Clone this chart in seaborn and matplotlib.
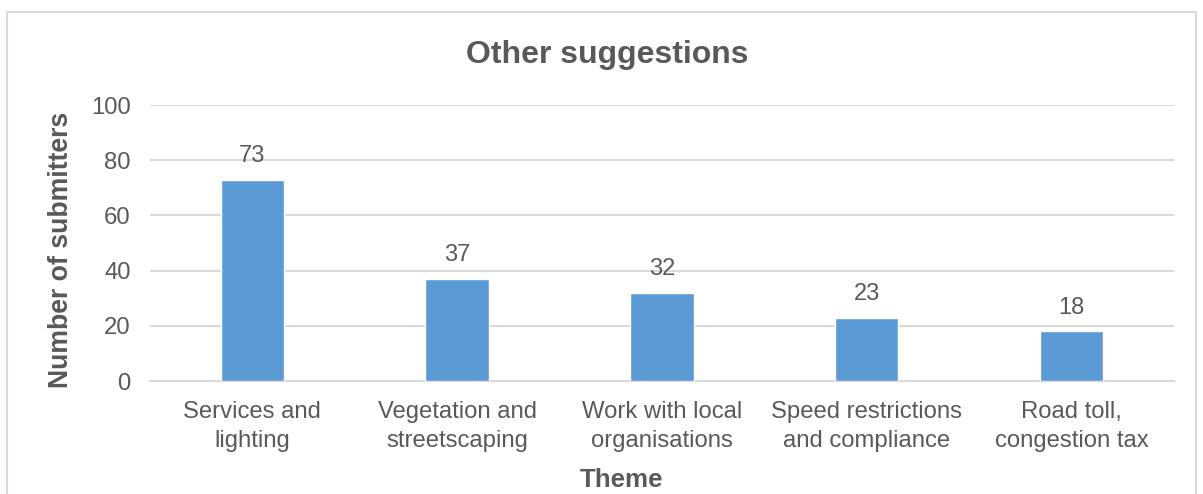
import matplotlib
matplotlib.use("Agg")
import matplotlib.pyplot as plt
import seaborn as sns
import pandas as pd
from matplotlib.patches import Rectangle

# data
themes = [
    "Services and\nlighting",
    "Vegetation and\nstreetscaping",
    "Work with local\norganisations",
    "Speed restrictions\nand compliance",
    "Road toll,\ncongestion tax",
]
submitters = [73, 37, 32, 23, 18]
y_ticks = [0, 20, 40, 60, 80, 100]

df = pd.DataFrame({"theme": themes, "count": submitters})

sns.set_style("white")
plt.rcParams["font.family"] = ["Liberation Sans", "DejaVu Sans"]

text_col = "#595959"
grid_col = "#D9D9D9"
bar_col = "#5B9BD5"

fig = plt.figure(figsize=(12.03, 4.94), dpi=100)
ax = fig.add_axes([0.1247, 0.2287, 0.851, 0.5587])

sns.barplot(data=df, x="theme", y="count", color=bar_col, width=0.31,
            saturation=1, ax=ax, zorder=3)

ax.set_ylim(0, 100)
ax.set_yticks(y_ticks)
ax.yaxis.grid(True, color=grid_col, linewidth=1.5, zorder=0)
ax.set_axisbelow(True)
for s in ["top", "right", "left"]:
    ax.spines[s].set_visible(False)
ax.spines["bottom"].set_color(grid_col)
ax.spines["bottom"].set_linewidth(1.5)

ax.tick_params(axis="both", length=0, labelsize=17.2, labelcolor=text_col)
ax.tick_params(axis="x", pad=14.5)
ax.tick_params(axis="y", pad=14)
for t in ax.get_xticklabels():
    t.set_linespacing(1.4)

for c in ax.containers:
    ax.bar_label(c, labels=[str(v) for v in submitters], padding=9,
                 fontsize=17, color=text_col)

ax.set_xlabel("Theme", fontsize=18.7, fontweight="bold", color=text_col,
              va="center")
ax.xaxis.set_label_coords(0.461, -0.357)
ax.set_ylabel("Number of submitters", fontsize=19.2, fontweight="bold",
              color=text_col, va="center")
ax.yaxis.set_label_coords(-0.087, 0.475)
fig.text(0.5045, 0.889, "Other suggestions", ha="center", va="center",
         fontsize=23, fontweight="bold", color=text_col)

# chart area border
fig.patches.append(Rectangle((7 / 1203, -0.1), (1196 - 7) / 1203,
                             (494 - 12) / 494 + 0.1, transform=fig.transFigure,
                             fill=False, edgecolor=grid_col, linewidth=1.5))

fig.savefig("out.png", dpi=100)
